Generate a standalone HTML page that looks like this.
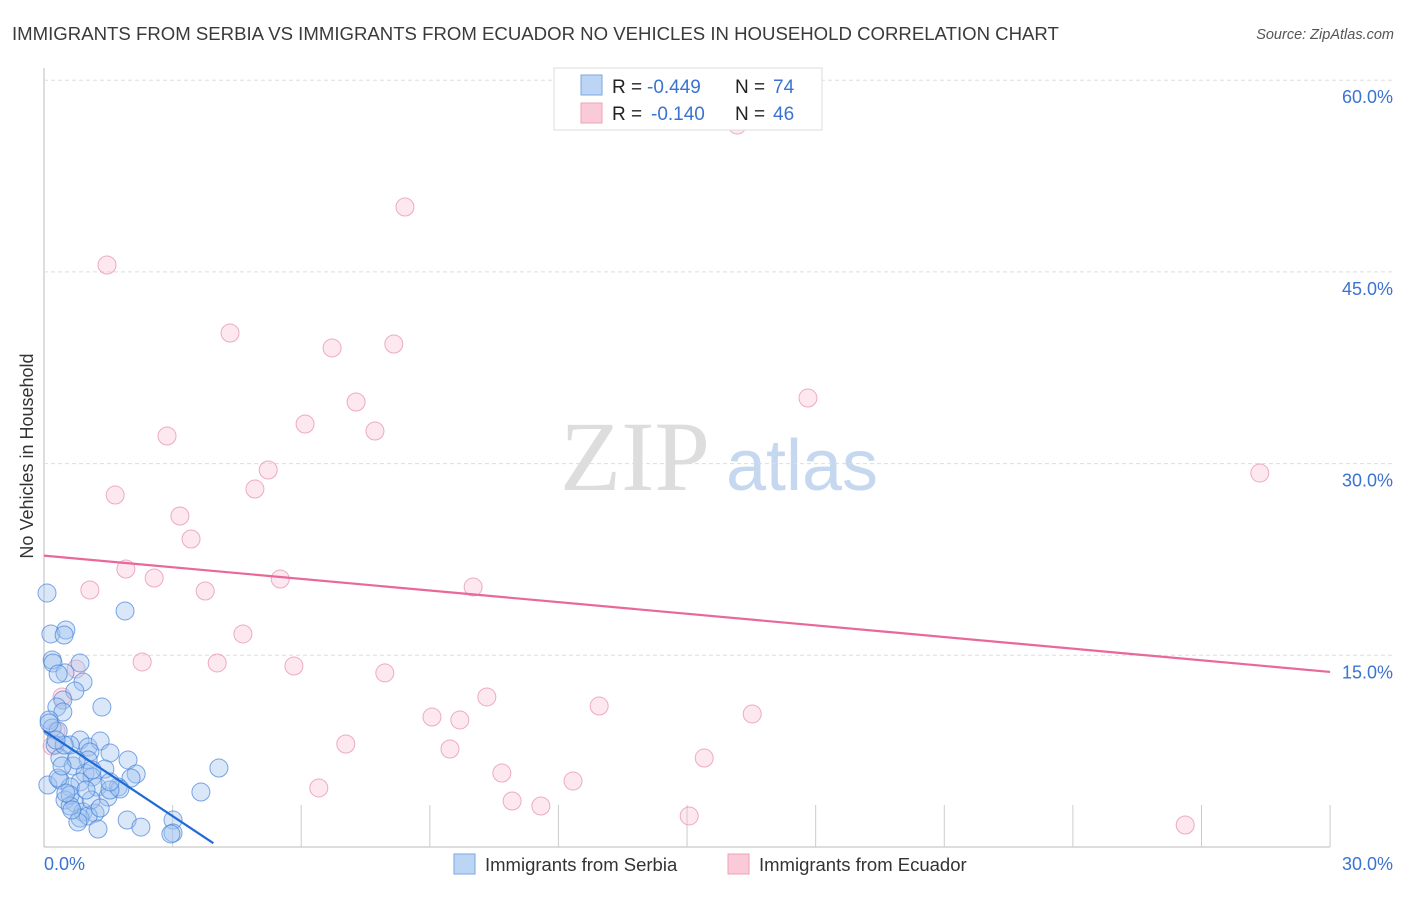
<!DOCTYPE html>
<html><head><meta charset="utf-8"><style>
body{margin:0;background:#fff;font-family:"Liberation Sans",sans-serif;}
</style></head><body>
<svg id="c" width="1406" height="892" font-family="Liberation Sans, sans-serif">
<text x="12" y="40" font-size="18.6" fill="#3a3a3a">IMMIGRANTS FROM SERBIA VS IMMIGRANTS FROM ECUADOR NO VEHICLES IN HOUSEHOLD CORRELATION CHART</text>
<text x="1394" y="39" font-size="14.5" fill="#555" text-anchor="end" font-style="italic">Source: ZipAtlas.com</text>
<text x="33" y="456" font-size="18" fill="#333" text-anchor="middle" transform="rotate(-90 33 456)">No Vehicles in Household</text>
<g><text x="635" y="490" font-size="100" fill="#ddd" style="font-family:'Liberation Serif',serif" text-anchor="middle">ZIP</text><text x="802" y="490" font-size="72" fill="#c5d8ef" text-anchor="middle">atlas</text></g>
<g id="grid"></g><g id="pts"></g><g id="lines"></g>
<g>
<rect x="554" y="68" width="268" height="62" fill="#fff" stroke="#ddd"/>
<rect x="581" y="75" width="21" height="20" fill="#bcd5f5" stroke="#7aa7e0"/>
<rect x="581" y="103" width="21" height="20" fill="#fbcad8" stroke="#eea3b8"/>
<text x="612" y="93" font-size="19" fill="#222">R =</text><text x="647" y="93" font-size="19" fill="#3b73d1">-0.449</text>
<text x="735" y="93" font-size="19" fill="#222">N =</text><text x="773" y="93" font-size="19" fill="#3b73d1">74</text>
<text x="612" y="120" font-size="19" fill="#222">R =</text><text x="651" y="120" font-size="19" fill="#3b73d1">-0.140</text>
<text x="735" y="120" font-size="19" fill="#222">N =</text><text x="773" y="120" font-size="19" fill="#3b73d1">46</text>
</g>
<g>
<rect x="454" y="854" width="21" height="20" fill="#bcd5f5" stroke="#7aa7e0"/>
<text x="485" y="871" font-size="18.5" fill="#333">Immigrants from Serbia</text>
<rect x="728" y="854" width="21" height="20" fill="#fbcad8" stroke="#eea3b8"/>
<text x="759" y="871" font-size="18.5" fill="#333">Immigrants from Ecuador</text>
</g>
<text x="44" y="870" font-size="18" fill="#3b73d1">0.0%</text>
<text x="1393" y="870" font-size="18" fill="#3b73d1" text-anchor="end">30.0%</text>
</svg>
<script>
const yTicks=[15,30,45,60];
const xTicks=[3,6,9,12,15,18,21,24,27,30];
const serbiaPx=[[47,593],[125,611],[51,634],[66,630],[64,635],[52,660],[53,663],[80,663],[65,673],[83,682],[75,691],[58,674],[63,700],[57,707],[63,712],[102,707],[49,720],[52,728],[58,731],[55,745],[80,740],[70,745],[88,747],[100,741],[110,753],[90,752],[128,760],[60,758],[73,766],[105,769],[136,774],[131,778],[219,768],[48,785],[60,780],[85,773],[92,777],[80,782],[70,787],[97,787],[65,800],[75,803],[108,797],[118,787],[120,789],[70,795],[83,812],[95,813],[80,818],[88,816],[127,820],[141,827],[98,829],[173,820],[173,833],[171,834],[201,792],[70,806],[58,778],[78,822],[66,793],[91,800],[110,790],[88,760],[76,760],[62,766],[100,808],[72,810],[86,790],[64,745],[110,782],[92,770],[56,740],[49,723]];
const ecuadorPx=[[737,125],[405,207],[107,265],[230,333],[332,348],[394,344],[356,402],[305,424],[375,431],[167,436],[808,398],[268,470],[1260,473],[115,495],[255,489],[180,516],[191,539],[126,569],[154,578],[280,579],[90,590],[205,591],[473,587],[243,634],[142,662],[217,663],[294,666],[385,673],[76,669],[62,697],[487,697],[599,706],[432,717],[460,720],[752,714],[346,744],[450,749],[704,758],[502,773],[573,781],[319,788],[512,801],[541,806],[689,816],[1185,825],[56,731],[52,746]];
// convert read pixel positions to data values (percent)
const serbiaX=serbiaPx.map(p=>+((p[0]-44)/42.87).toFixed(2));
const serbiaY=serbiaPx.map(p=>+((847-p[1])/12.78).toFixed(2));
const ecuadorX=ecuadorPx.map(p=>+((p[0]-44)/42.87).toFixed(2));
const ecuadorY=ecuadorPx.map(p=>+((847-p[1])/12.78).toFixed(2));
const serbiaTrend=[[0,9.1],[3.95,0.3]];
const ecuadorTrend=[[0,22.8],[30,13.7]];
const X=v=>44+v*42.87, Y=v=>847-v*12.78;
const NS="http://www.w3.org/2000/svg";
function mk(tag,attrs,parent){const e=document.createElementNS(NS,tag);for(const k in attrs)e.setAttribute(k,attrs[k]);document.getElementById(parent).appendChild(e);return e;}
const ax=mk('line',{x1:44,y1:68,x2:44,y2:847,stroke:'#bbb'},'grid');


const bx=mk('line',{x1:44,y1:847,x2:1330,y2:847,stroke:'#bbb'},'grid');


yTicks.forEach(t=>{
 const l=mk('line',{x1:44,y1:Y(t),x2:1393,y2:Y(t),stroke:'#ddd','stroke-dasharray':'4,3'},'grid');
 
 
 const tx=mk('text',{x:1393,y:Y(t)+23,'font-size':18,fill:'#3b73d1','text-anchor':'end'},'grid');
 tx.textContent=t.toFixed(1)+'%';
 
 
});
xTicks.forEach(t=>{
 const l=mk('line',{x1:X(t),y1:805,x2:X(t),y2:847,stroke:'#ccc'},'grid');
 
 
});
function pts(xs,ys,fill,stroke,name){xs.forEach((x,i)=>{
 const c=mk('circle',{cx:X(x),cy:Y(ys[i]),r:9,fill:fill,stroke:stroke,'stroke-width':1},'pts');
 
 
});}
pts(ecuadorX,ecuadorY,'rgba(248,190,208,0.35)','rgba(230,140,170,0.7)','ecuador-point');
pts(serbiaX,serbiaY,'rgba(160,195,240,0.4)','rgba(70,130,215,0.7)','serbia-point');
const l1=mk('line',{x1:X(ecuadorTrend[0][0]),y1:Y(ecuadorTrend[0][1]),x2:X(ecuadorTrend[1][0]),y2:Y(ecuadorTrend[1][1]),stroke:'#e8689a','stroke-width':2.2},'lines');


const l2=mk('line',{x1:X(serbiaTrend[0][0]),y1:Y(serbiaTrend[0][1]),x2:X(serbiaTrend[1][0]),y2:Y(serbiaTrend[1][1]),stroke:'#1f6ad6','stroke-width':2.2},'lines');


</script>
</body></html>
